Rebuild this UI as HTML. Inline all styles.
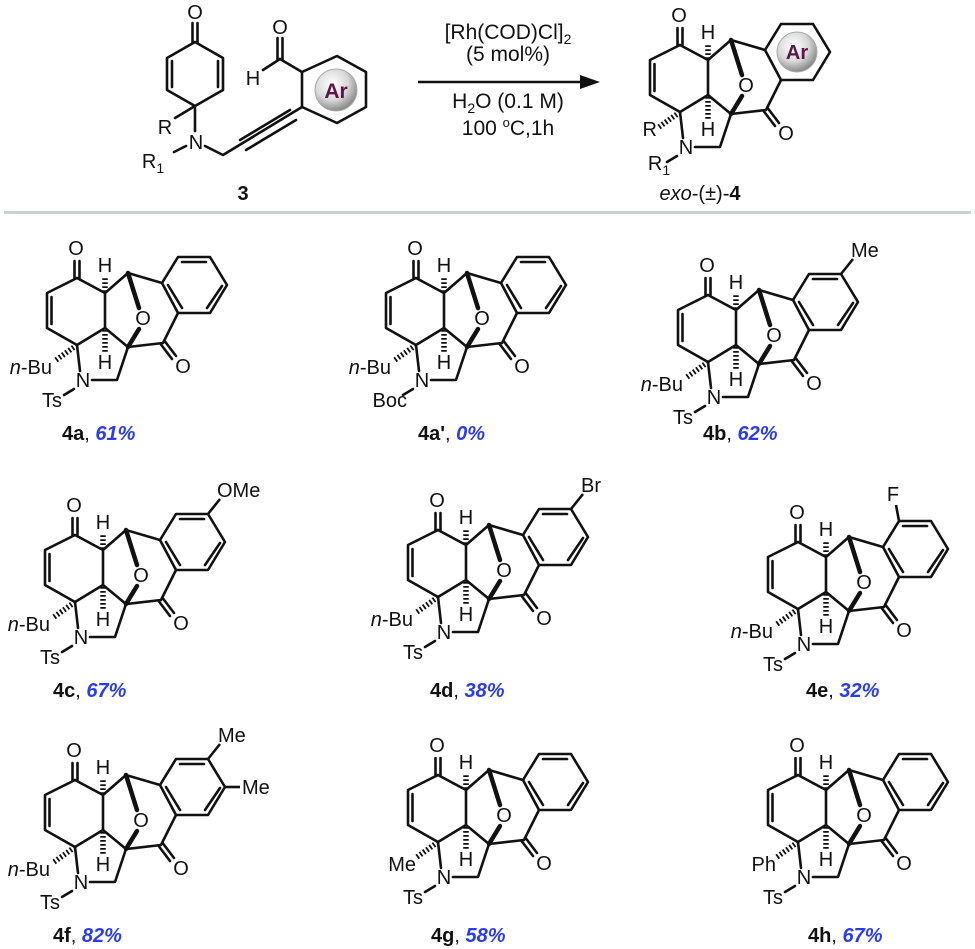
<!DOCTYPE html>
<html><head><meta charset="utf-8"><style>
html,body{margin:0;padding:0;background:#fff}
svg{display:block}
text{font-family:"Liberation Sans",Arial,sans-serif;font-size:20px;fill:#111}
.lb{font-weight:bold;font-size:20px}
.pc{font-weight:bold;font-style:italic;fill:#2a3cf0}
.cd{font-size:21px}
</style></head><body>
<svg width="975" height="949" viewBox="0 0 975 949" xmlns="http://www.w3.org/2000/svg">
<defs>
<radialGradient id="ag" cx="40%" cy="35%" r="65%"><stop offset="0" stop-color="#ffffff"/><stop offset="0.6" stop-color="#d8d8d8"/><stop offset="1" stop-color="#8a8a8a"/></radialGradient>
<g id="core" fill="none" stroke="#111" stroke-width="2.6" stroke-linejoin="round" stroke-linecap="round">
<line x1="74.5" y1="278" x2="74.5" y2="261"/><line x1="79.5" y1="278" x2="79.5" y2="261"/>
<polyline points="77,278 47,293 47,328 77,345 105,328 105,293 77,278"/>
<line x1="51.5" y1="297" x2="51.5" y2="324"/>
<polyline points="105,293 128,273 162,283"/>
<polyline points="105,328 128,347 117,380 92,380"/>
<line x1="80" y1="371" x2="77" y2="345"/>
<line x1="74" y1="389" x2="64" y2="395"/>
<line x1="128" y1="273" x2="139" y2="308" stroke-width="4.5"/>
<line x1="139" y1="329" x2="128" y2="347" stroke-width="4.5"/>
<polyline points="178,313 163,343 128,347"/>
<line x1="165" y1="341.5" x2="176" y2="356"/><line x1="161" y1="344.5" x2="172" y2="359"/>
<line x1="77" y1="345" x2="56" y2="360" stroke-width="5.5" stroke-dasharray="1.8 2.2" stroke-linecap="butt"/>
<line x1="105" y1="292" x2="105" y2="278" stroke-width="5.5" stroke-dasharray="1.8 2.2" stroke-linecap="butt"/>
<line x1="105" y1="330" x2="105" y2="352" stroke-width="5.5" stroke-dasharray="1.8 2.2" stroke-linecap="butt"/>
<polygon points="162,283 178,257 210,257 227,285 210,313 178,313"/>
</g>
<g id="bz" fill="none" stroke="#111" stroke-width="2.6" stroke-linecap="round">
<line x1="182" y1="262" x2="206" y2="262"/><line x1="222" y1="286" x2="207" y2="308"/><line x1="182" y1="308" x2="168" y2="285"/>
</g>
<g id="tx">
<text x="76" y="255" text-anchor="middle">O</text>
<text x="105" y="272" text-anchor="middle">H</text>
<text x="143" y="325" text-anchor="middle">O</text>
<text x="105" y="369" text-anchor="middle">H</text>
<text x="183" y="373" text-anchor="middle">O</text>
<text x="83" y="387" text-anchor="middle">N</text>
</g>
</defs>

<!-- header: starting material 3 -->
<g fill="none" stroke="#111" stroke-width="2.6" stroke-linejoin="round" stroke-linecap="round">
<line x1="192.5" y1="42" x2="192.5" y2="23"/><line x1="197.5" y1="42" x2="197.5" y2="23"/>
<polygon points="195,42 167,58 167,90 195,106 223,90 223,58"/>
<line x1="172" y1="61" x2="172" y2="87"/><line x1="218" y1="61" x2="218" y2="87"/>
<line x1="195" y1="106" x2="195" y2="131"/>
<line x1="195" y1="106" x2="175" y2="118"/>
<line x1="186" y1="146" x2="174" y2="152"/>
<polyline points="205,146 223,155 302,107"/>
<line x1="240" y1="140" x2="290" y2="110"/><line x1="246" y1="150" x2="296" y2="120"/>
<polygon points="302,72 337,56 366,72 366,107 337,123 302,107"/>
<line x1="302" y1="72" x2="280" y2="59"/>
<line x1="277.5" y1="59" x2="277.5" y2="38"/><line x1="282.5" y1="59" x2="282.5" y2="38"/>
<line x1="280" y1="59" x2="263" y2="70"/>
</g>
<circle cx="336" cy="90" r="21" fill="url(#ag)" stroke="#aaa" stroke-width="1"/>
<text x="336" y="98" text-anchor="middle" style="font-weight:bold;font-size:21px;fill:#5a1848">Ar</text>
<text x="195" y="19" text-anchor="middle">O</text>
<text x="280" y="34" text-anchor="middle">O</text>
<text x="253" y="85" text-anchor="middle">H</text>
<text x="165" y="134" text-anchor="middle">R</text>
<text x="196" y="149" text-anchor="middle">N</text>
<text x="153" y="168" text-anchor="middle">R<tspan font-size="14" dy="5">1</tspan></text>
<text x="243" y="200" text-anchor="middle" class="lb">3</text>

<!-- arrow & conditions -->
<line x1="418" y1="82" x2="585" y2="82" stroke="#111" stroke-width="2.4"/>
<polygon points="600,82 580,75 580,89" fill="#111"/>
<text x="508" y="39" text-anchor="middle" class="cd">[Rh(COD)Cl]<tspan font-size="14" dy="5">2</tspan></text>
<text x="508" y="61" text-anchor="middle" class="cd">(5 mol%)</text>
<text x="508" y="108" text-anchor="middle" class="cd">H<tspan font-size="14" dy="5">2</tspan><tspan dy="-5">O (0.1 M)</tspan></text>
<text x="508" y="135" text-anchor="middle" class="cd">100 <tspan font-size="13" dy="-8">o</tspan><tspan dy="8">C,1h</tspan></text>

<!-- header product -->
<g transform="translate(603,-233)"><use href="#core"/><use href="#tx"/>
<text x="54" y="369" text-anchor="end">R</text>
<text x="56" y="403" text-anchor="middle">R<tspan font-size="14" dy="5">1</tspan></text></g>
<circle cx="797" cy="52" r="20" fill="url(#ag)" stroke="#aaa" stroke-width="1"/>
<text x="797" y="59" text-anchor="middle" style="font-weight:bold;font-size:20px;fill:#5a1848">Ar</text>
<text x="700" y="200" text-anchor="middle"><tspan font-style="italic">exo</tspan>-(±)-<tspan font-weight="bold">4</tspan></text>

<rect x="4" y="211" width="967" height="3" fill="#c8d2d2"/>

<!-- 4a -->
<g><use href="#core"/><use href="#bz"/><use href="#tx"/>
<text x="52" y="374" text-anchor="end"><tspan font-style="italic">n</tspan>-Bu</text>
<text x="52" y="407" text-anchor="middle">Ts</text></g>
<text x="62" y="440" class="lb">4a<tspan font-weight="normal">, </tspan><tspan class="pc">61%</tspan></text>

<!-- 4a' -->
<g transform="translate(339,0)"><use href="#core"/><use href="#bz"/><use href="#tx"/>
<text x="52" y="374" text-anchor="end"><tspan font-style="italic">n</tspan>-Bu</text>
<text x="68" y="407" text-anchor="end">Boc</text></g>
<text x="418" y="440" class="lb">4a'<tspan font-weight="normal">, </tspan><tspan class="pc">0%</tspan></text>

<!-- 4b -->
<g transform="translate(631,17)"><use href="#core"/><use href="#bz"/><use href="#tx"/>
<line x1="210" y1="257" x2="222" y2="242" stroke="#111" stroke-width="2.6"/>
<text x="220" y="240">Me</text>
<text x="52" y="374" text-anchor="end"><tspan font-style="italic">n</tspan>-Bu</text>
<text x="52" y="407" text-anchor="middle">Ts</text></g>
<text x="703" y="440" class="lb">4b<tspan font-weight="normal">, </tspan><tspan class="pc">62%</tspan></text>

<!-- 4c -->
<g transform="translate(-2,257)"><use href="#core"/><use href="#bz"/><use href="#tx"/>
<line x1="210" y1="257" x2="222" y2="242" stroke="#111" stroke-width="2.6"/>
<text x="219" y="240">OMe</text>
<text x="52" y="374" text-anchor="end"><tspan font-style="italic">n</tspan>-Bu</text>
<text x="52" y="407" text-anchor="middle">Ts</text></g>
<text x="53" y="697" class="lb">4c<tspan font-weight="normal">, </tspan><tspan class="pc">67%</tspan></text>

<!-- 4d -->
<g transform="translate(361,252)"><use href="#core"/><use href="#bz"/><use href="#tx"/>
<line x1="210" y1="257" x2="222" y2="242" stroke="#111" stroke-width="2.6"/>
<text x="220" y="240">Br</text>
<text x="52" y="374" text-anchor="end"><tspan font-style="italic">n</tspan>-Bu</text>
<text x="52" y="407" text-anchor="middle">Ts</text></g>
<text x="430" y="697" class="lb">4d<tspan font-weight="normal">, </tspan><tspan class="pc">38%</tspan></text>

<!-- 4e -->
<g transform="translate(721,264)"><use href="#core"/><use href="#bz"/><use href="#tx"/>
<line x1="178" y1="257" x2="175" y2="241" stroke="#111" stroke-width="2.6"/>
<text x="172" y="237" text-anchor="middle">F</text>
<text x="52" y="374" text-anchor="end"><tspan font-style="italic">n</tspan>-Bu</text>
<text x="52" y="407" text-anchor="middle">Ts</text></g>
<text x="806" y="697" class="lb">4e<tspan font-weight="normal">, </tspan><tspan class="pc">32%</tspan></text>

<!-- 4f -->
<g transform="translate(-2,502)"><use href="#core"/><use href="#bz"/><use href="#tx"/>
<line x1="210" y1="257" x2="222" y2="242" stroke="#111" stroke-width="2.6"/>
<line x1="227" y1="285" x2="242" y2="285" stroke="#111" stroke-width="2.6"/>
<text x="220" y="240">Me</text>
<text x="244" y="292">Me</text>
<text x="52" y="374" text-anchor="end"><tspan font-style="italic">n</tspan>-Bu</text>
<text x="52" y="407" text-anchor="middle">Ts</text></g>
<text x="53" y="942" class="lb">4f<tspan font-weight="normal">, </tspan><tspan class="pc">82%</tspan></text>

<!-- 4g -->
<g transform="translate(361,497)"><use href="#core"/><use href="#bz"/><use href="#tx"/>
<text x="55" y="374" text-anchor="end">Me</text>
<text x="52" y="407" text-anchor="middle">Ts</text></g>
<text x="431" y="942" class="lb">4g<tspan font-weight="normal">, </tspan><tspan class="pc">58%</tspan></text>

<!-- 4h -->
<g transform="translate(721,497)"><use href="#core"/><use href="#bz"/><use href="#tx"/>
<text x="55" y="374" text-anchor="end">Ph</text>
<text x="52" y="407" text-anchor="middle">Ts</text></g>
<text x="808" y="942" class="lb">4h<tspan font-weight="normal">, </tspan><tspan class="pc">67%</tspan></text>
</svg>
</body></html>
